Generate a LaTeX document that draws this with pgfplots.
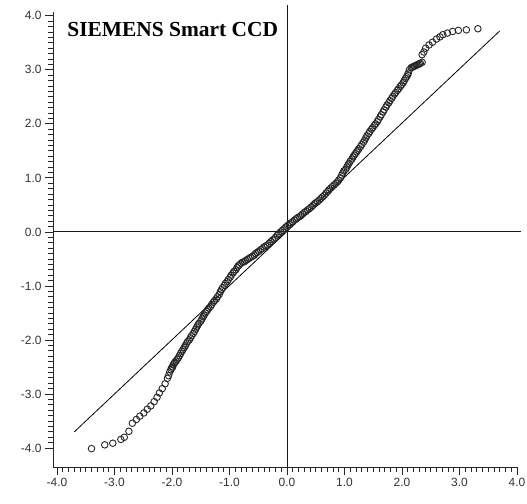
\documentclass[border=0pt]{standalone}
\usepackage{fontspec}
\setmainfont{Liberation Serif}
\setsansfont{Liberation Sans}
\usepackage{pgfplots}
\usepackage{pgfplotstable}
\pgfplotsset{compat=1.18}
\pgfplotstableread{
x y
-3.40 -4.01
-3.17 -3.94
-3.03 -3.91
-2.89 -3.84
-2.83 -3.80
-2.75 -3.69
-2.69 -3.54
-2.62 -3.47
-2.56 -3.41
-2.49 -3.35
-2.43 -3.28
-2.37 -3.22
-2.31 -3.14
-2.26 -3.06
-2.22 -2.98
-2.17 -2.90
-2.12 -2.81
-2.08 -2.71
-2.04 -2.59
-2.01 -2.52
-1.98 -2.46
-1.95 -2.41
-1.91 -2.36
-1.87 -2.29
-1.83 -2.21
-1.79 -2.14
-1.75 -2.07
-1.70 -2.00
-1.66 -1.92
-1.61 -1.84
-1.57 -1.76
-1.53 -1.69
-1.48 -1.61
-1.44 -1.54
-1.40 -1.47
-1.36 -1.41
-1.31 -1.34
-1.26 -1.27
-1.21 -1.20
-1.16 -1.11
-1.12 -1.03
-1.07 -0.95
-1.02 -0.88
-0.97 -0.80
-0.92 -0.73
-0.87 -0.66
-0.83 -0.61
-0.77 -0.56
-0.72 -0.53
-0.66 -0.49
-0.60 -0.45
-0.55 -0.40
-0.49 -0.36
-0.43 -0.31
-0.37 -0.26
-0.31 -0.21
-0.25 -0.15
-0.20 -0.10
-0.14 -0.03
-0.08 0.03
-0.02 0.09
0.04 0.14
0.10 0.19
0.16 0.24
0.21 0.28
0.27 0.33
0.33 0.38
0.39 0.43
0.45 0.49
0.50 0.54
0.56 0.59
0.62 0.65
0.68 0.72
0.73 0.78
0.79 0.84
0.85 0.90
0.90 0.96
0.95 1.05
0.99 1.13
1.04 1.20
1.08 1.27
1.13 1.35
1.17 1.42
1.21 1.48
1.25 1.54
1.30 1.62
1.35 1.70
1.39 1.78
1.44 1.86
1.49 1.93
1.54 2.00
1.59 2.08
1.64 2.17
1.69 2.26
1.74 2.35
1.79 2.43
1.84 2.51
1.89 2.58
1.94 2.65
1.99 2.72
2.04 2.80
2.08 2.87
2.11 2.94
2.13 3.00
2.16 3.04
2.20 3.06
2.24 3.08
2.28 3.10
2.32 3.12
2.35 3.14
2.35 3.28
2.38 3.33
2.41 3.40
2.47 3.46
2.53 3.51
2.60 3.57
2.66 3.61
2.71 3.65
2.79 3.68
2.88 3.71
2.98 3.73
3.12 3.74
3.32 3.76
}\qq
\pgfplotstableread{
x y
-2.06 -2.66
-2.02 -2.55
-1.99 -2.50
-1.96 -2.43
-1.93 -2.39
-1.89 -2.33
-1.85 -2.25
-1.81 -2.18
-1.77 -2.11
-1.73 -2.03
-1.68 -1.96
-1.63 -1.88
-1.59 -1.80
-1.55 -1.72
-1.50 -1.65
-1.46 -1.57
-1.42 -1.50
-1.38 -1.44
-1.33 -1.38
-1.28 -1.30
-1.23 -1.24
-1.18 -1.16
-1.14 -1.07
-1.09 -0.99
-1.04 -0.92
-0.99 -0.84
-0.94 -0.76
-0.89 -0.70
-0.85 -0.63
-0.80 -0.58
-0.74 -0.55
-0.69 -0.51
-0.63 -0.47
-0.57 -0.43
-0.52 -0.38
-0.46 -0.33
-0.40 -0.28
-0.34 -0.24
-0.28 -0.18
-0.22 -0.13
-0.17 -0.06
-0.11 0.00
-0.05 0.06
0.01 0.12
0.07 0.17
0.13 0.22
0.18 0.26
0.24 0.30
0.30 0.36
0.36 0.41
0.42 0.46
0.48 0.52
0.53 0.56
0.59 0.62
0.65 0.68
0.71 0.75
0.76 0.81
0.82 0.87
0.88 0.93
0.93 1.00
0.97 1.09
1.02 1.16
1.06 1.24
1.10 1.31
1.15 1.39
1.19 1.45
1.23 1.51
1.28 1.58
1.33 1.66
1.37 1.74
1.42 1.82
1.47 1.90
1.52 1.97
1.57 2.04
1.62 2.13
1.67 2.22
1.72 2.31
1.77 2.39
1.82 2.47
1.87 2.55
1.92 2.62
1.97 2.69
2.02 2.76
2.06 2.84
2.10 2.91
2.18 3.05
2.22 3.07
2.26 3.09
2.30 3.11
}\qqb
\begin{document}
\begin{tikzpicture}
\begin{axis}[
  scale only axis, width=464bp, height=455bp,
  xmin=-4.07, xmax=4.0, ymin=-4.35, ymax=4.07,
  axis lines=left,
  axis line style={-, line width=0.9pt, black!85},
  xtick={-4,...,4}, ytick={-4,...,4},
  minor x tick num=9, minor y tick num=9,
  tick align=outside,
  major tick length=8bp, minor tick length=4.5bp,
  tick style={black!85, line width=0.8pt},
  xtick pos=bottom, ytick pos=left,
  ticklabel style={font=\sffamily\fontsize{12}{14}\selectfont, text=black!80},
  /pgf/number format/fixed,
  /pgf/number format/fixed zerofill,
  /pgf/number format/precision=1,
  /pgf/number format/assume math mode=true,
  clip=false,
]
\addplot[black, line width=0.8pt] coordinates {(-3.7,-3.7) (3.7,3.72)};
\addplot[black!90, line width=1pt] coordinates {(-4.07,0) (4.07,0)};
\addplot[black!90, line width=1pt] coordinates {(0,-4.35) (0,4.2)};
\addplot[only marks, mark=o, mark size=3.3pt, mark options={line width=0.9pt, draw=black!85}] table[x=x, y=y] {\qq};
\addplot[only marks, mark=o, mark size=3.3pt, mark options={line width=0.9pt, draw=black!85}] table[x=x, y=y] {\qqb};
\node[anchor=base west, font=\bfseries\fontsize{21.5}{25}\selectfont] at (axis cs:-3.88,3.61) {SIEMENS Smart CCD};
\end{axis}
\pgfresetboundingbox
\path[use as bounding box] (-53bp,-37bp) rectangle (474bp,467bp);
\end{tikzpicture}
\end{document}
